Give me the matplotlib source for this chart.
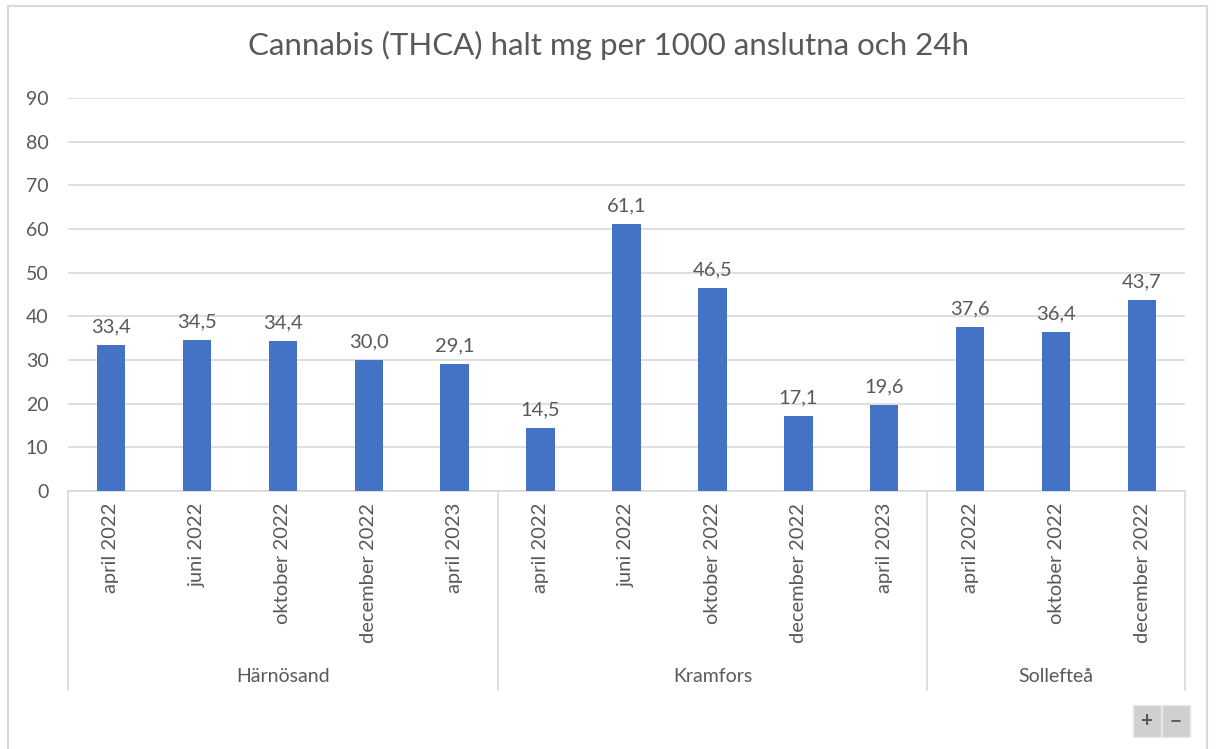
import matplotlib
matplotlib.use("Agg")
import matplotlib.pyplot as plt
from matplotlib.patches import Rectangle
from matplotlib.lines import Line2D

title = "Cannabis (THCA) halt mg per 1000 anslutna och 24h"
groups = ["Härnösand", "Kramfors", "Sollefteå"]
group_months = [
    ["april 2022", "juni 2022", "oktober 2022", "december 2022", "april 2023"],
    ["april 2022", "juni 2022", "oktober 2022", "december 2022", "april 2023"],
    ["april 2022", "oktober 2022", "december 2022"],
]
group_values = [
    [33.4, 34.5, 34.4, 30.0, 29.1],
    [14.5, 61.1, 46.5, 17.1, 19.6],
    [37.6, 36.4, 43.7],
]
yticks = [0, 10, 20, 30, 40, 50, 60, 70, 80, 90]

W, H = 1216, 749
plt.rcParams['font.family'] = ['Lato', 'DejaVu Sans']
txt = '#595959'
grid_c = '#D9D9D9'
bar_c = '#4472C4'

fig = plt.figure(figsize=(W / 100, H / 100), dpi=100)
fig.patch.set_facecolor('white')

def fx(px):
    return px / W

def fy(py):
    return 1 - py / H

x0, x1 = 68, 1185
yb, yt = 491, 98
ax = fig.add_axes([fx(x0), fy(yb), fx(x1) - fx(x0), fy(yt) - fy(yb)])

labels = [m for ms in group_months for m in ms]
values = [v for vs in group_values for v in vs]
n = len(values)
xs = list(range(n))
ax.bar(xs, values, width=0.33, color=bar_c, zorder=3)
ax.set_xlim(-0.5, n - 0.5)
ax.set_ylim(0, 90)
ax.set_yticks(yticks)
ax.set_yticklabels([str(t) for t in yticks], fontsize=14, color=txt)
ax.tick_params(axis='y', length=0, pad=14)
ax.set_xticks([])
ax.grid(axis='y', color=grid_c, linewidth=1.2, zorder=0)
for s in ['top', 'right', 'left']:
    ax.spines[s].set_visible(False)
ax.spines['bottom'].set_color(grid_c)
ax.spines['bottom'].set_linewidth(1.2)

for x, v in zip(xs, values):
    ax.annotate(f"{v:.1f}".replace('.', ','), (x, v), xytext=(0, 7),
                textcoords='offset points', ha='center', va='bottom',
                fontsize=14.5, color=txt)

# category labels
for x, lab in zip(xs, labels):
    ax.annotate(lab, (x, 0), xytext=(0, -12), textcoords='offset pixels',
                ha='center', va='top', rotation=90, fontsize=14.5, color=txt,
                annotation_clip=False)

# group separators and labels
bounds = [-0.5]
for ms in group_months:
    bounds.append(bounds[-1] + len(ms))
trans = ax.get_xaxis_transform()
for b in bounds:
    line = Line2D([b, b], [0, -(690 - yb) / (yb - yt)], transform=trans,
                  color=grid_c, linewidth=1.2, clip_on=False)
    ax.add_line(line)
for g, a, b in zip(groups, bounds[:-1], bounds[1:]):
    ax.text((a + b) / 2, -(677 - yb) / (yb - yt), g, transform=trans,
            ha='center', va='center', fontsize=14, color=txt)

fig.text(0.5, fy(45), title, ha='center', va='center', fontsize=22.5, color=txt)

# outer chart border
fig.add_artist(Line2D([fx(8), fx(8)], [fy(6), 0], color='#D9D9D9', linewidth=1.5))
fig.add_artist(Line2D([fx(8), fx(1207)], [fy(6), fy(6)], color='#D9D9D9', linewidth=1.5))
fig.add_artist(Line2D([fx(1207), fx(1207)], [fy(6), 0], color='#D9D9D9', linewidth=1.5))

# zoom buttons
for bx, sym in [(1133, '+'), (1162, '−')]:
    fig.add_artist(Rectangle((fx(bx), fy(737)), fx(28), fy(705) - fy(737),
                             facecolor='#D0D0D0', edgecolor='#E8E8E8', linewidth=1))
    fig.text(fx(bx + 14), fy(721), sym, ha='center', va='center',
             fontsize=15, color='#5A5A5A', fontweight='bold')

fig.savefig('out.png', dpi=100)
